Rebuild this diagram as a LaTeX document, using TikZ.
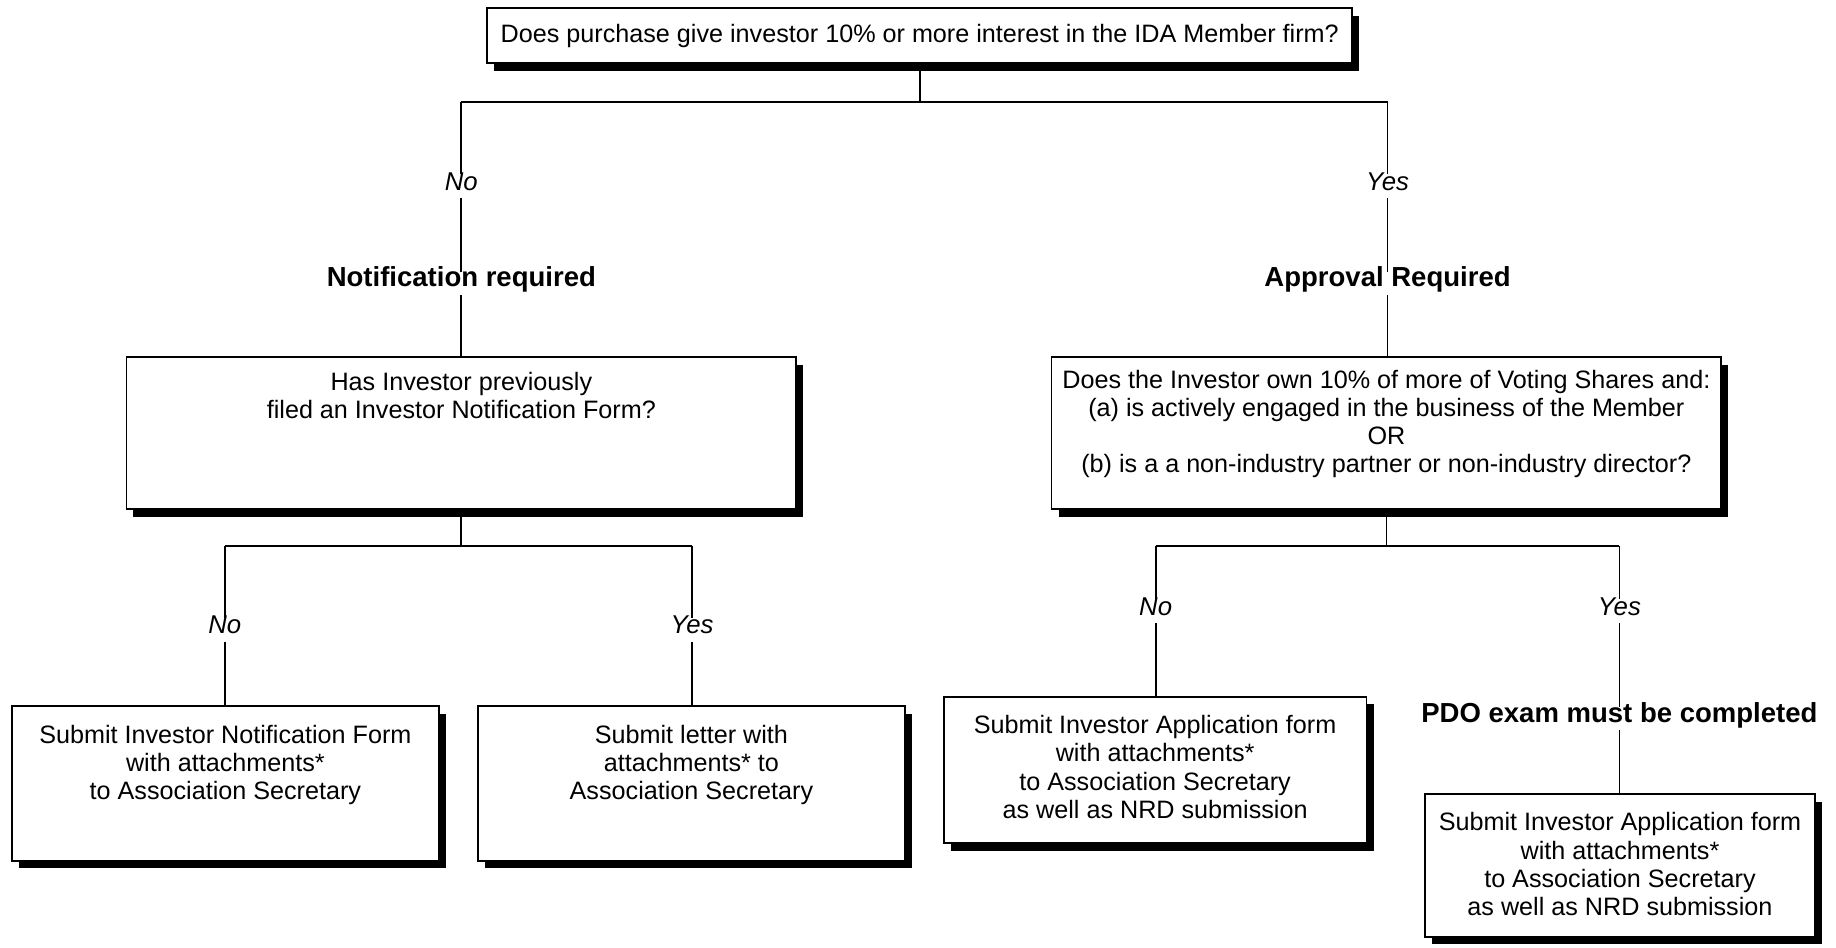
\documentclass[tikz,border=0pt]{standalone}
\usepackage{fontspec}
\setmainfont{Liberation Sans}
\usetikzlibrary{shadows}
\begin{document}
\begin{tikzpicture}[x=1pt,y=-1pt,
  box/.style={draw=black, line width=1.6pt, fill=white, inner sep=0pt,
    drop shadow={shadow xshift=6pt, shadow yshift=-6.5pt, fill=black, opacity=1}},
  txt/.style={align=center, inner sep=0pt, font=\fontsize{21.5}{24}\selectfont},
  lbl/.style={inner sep=6pt, text height=0.72em, text depth=0.05em, font=\fontsize{22}{24}\selectfont\itshape},
  hdr/.style={inner sep=5pt, text height=0.72em, text depth=0.2em, font=\fontsize{23.5}{26}\selectfont\bfseries},
  conn/.style={draw=black, line width=1.5pt}]
\useasboundingbox (0,0) rectangle (1568,809);

% top question
\node[box, minimum width=739pt, minimum height=47pt] (top) at (785.5,30.5) {};
\node[txt] (topt) at (785.5,31) {Does purchase give investor 10\% or more interest in the IDA Member firm?};
\coordinate (jA) at (785.5,87);

\node[lbl] (noA) at (394,159) {No};
\node[lbl] (yesA) at (1185,159) {Yes};
\node[hdr] (notif) at (394,242) {Notification required};
\node[hdr] (approv) at (1185,242) {Approval Required};

% second level boxes
\node[box, minimum width=572pt, minimum height=130pt] (b2l) at (394,370) {};
\node[txt] (b2lt) at (394,338) {Has Investor previously\\filed an Investor Notification Form?};
\node[box, minimum width=572pt, minimum height=130pt] (b2r) at (1184,370) {};
\node[txt] (b2rt) at (1184,362) {Does the Investor own 10\% of more of Voting Shares and:\\(a) is actively engaged in the business of the Member\\OR\\(b) is a a non-industry partner or non-industry director?};
\coordinate (jL) at (394,466);
\coordinate (jR) at (1184,466);

\node[lbl] (noB) at (192,538) {No};
\node[lbl] (yesB) at (591,538) {Yes};
\node[lbl] (noC) at (987,522) {No};
\node[lbl] (yesC) at (1383,522) {Yes};
\node[hdr] (pdo) at (1383,614) {PDO exam must be completed};

% third level boxes
\node[box, minimum width=365pt, minimum height=132pt] (b3a) at (192.5,669) {};
\node[txt] (b3at) at (192.5,653) {Submit Investor Notification Form\\with attachments*\\to Association Secretary};
\node[box, minimum width=365pt, minimum height=132pt] (b3b) at (590.5,669) {};
\node[txt] (b3bt) at (590.5,653) {Submit letter with\\attachments* to\\Association Secretary};
\node[box, minimum width=361pt, minimum height=125pt] (b3c) at (986.5,657.5) {};
\node[txt] (b3ct) at (986.5,655) {Submit Investor Application form\\with attachments*\\to Association Secretary\\as well as NRD submission};
\node[box, minimum width=333pt, minimum height=122pt] (b3d) at (1383.5,739) {};
\node[txt] (b3dt) at (1383.5,738) {Submit Investor Application form\\with attachments*\\to Association Secretary\\as well as NRD submission};

% connectors
\draw[conn] (top) -- (jA);
\draw[conn] (noA |- jA) -- (yesA |- jA);
\draw[conn] (noA |- jA) -- (noA);
\draw[conn] (yesA |- jA) -- (yesA);
\draw[conn] (noA) -- (notif);
\draw[conn] (yesA) -- (approv);
\draw[conn] (notif) -- (b2l);
\draw[conn] (approv) -- (approv |- b2r.north);

\draw[conn] (b2l) -- (jL);
\draw[conn] (noB |- jL) -- (yesB |- jL);
\draw[conn] (noB |- jL) -- (noB);
\draw[conn] (yesB |- jL) -- (yesB);
\draw[conn] (noB) -- (noB |- b3a.north);
\draw[conn] (yesB) -- (yesB |- b3b.north);

\draw[conn] (b2r) -- (jR);
\draw[conn] (noC |- jR) -- (yesC |- jR);
\draw[conn] (noC |- jR) -- (noC);
\draw[conn] (yesC |- jR) -- (yesC);
\draw[conn] (noC) -- (noC |- b3c.north);
\draw[conn] (yesC) -- (pdo);
\draw[conn] (pdo) -- (pdo |- b3d.north);
\end{tikzpicture}
\end{document}
